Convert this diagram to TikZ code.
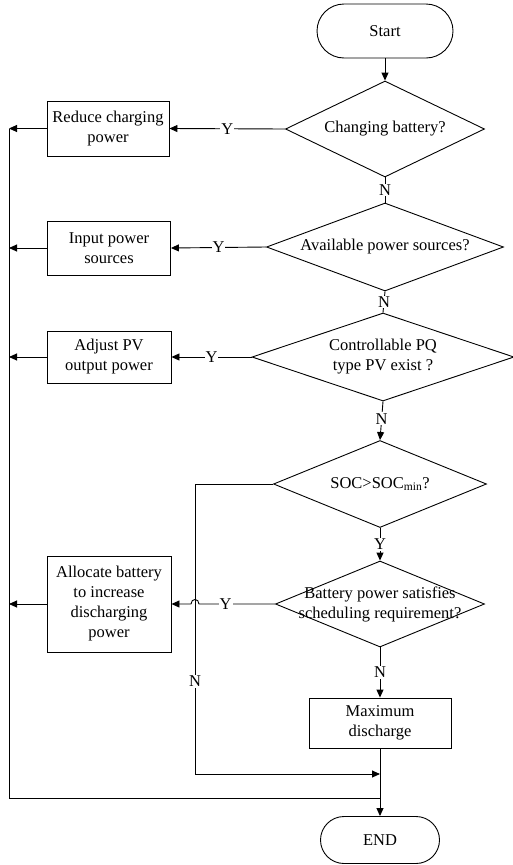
\documentclass[tikz,border=0pt]{standalone}
\usepackage{fontspec}
\setmainfont{Liberation Serif}
\usetikzlibrary{shapes.geometric,arrows.meta}
\begin{document}
\begin{tikzpicture}[x=1pt,y=-1pt,
  every node/.style={font=\fontsize{16.5}{20}\selectfont},
  flow/.style={line width=0.9pt},
  arr/.style={flow,-{Triangle[length=8pt,width=7pt]}},
  proc/.style={draw,line width=0.9pt,rectangle,inner sep=0pt,align=center},
  term/.style={draw,line width=0.9pt,rectangle,rounded corners=#1,inner sep=0pt},
  decision/.style={draw,line width=0.9pt,diamond,inner sep=0pt},
  lbl/.style={fill=white,inner sep=1pt}
]
\useasboundingbox (0,0) rectangle (513,865);

% main column
\node[term=27pt,minimum width=136pt,minimum height=54pt] (start) at (385,31) {Start};
\node[decision,minimum width=199pt,minimum height=96pt] (d1) at (385,129) {};
\node (d1t) at (d1) {Changing battery?};
\node[decision,minimum width=237pt,minimum height=88pt] (d2) at (385,247) {};
\node (d2t) at (d2) {Available power sources?};
\node[decision,minimum width=262pt,minimum height=88pt] (d3) at (383,357) {};
\node[align=center] (d3t) at (d3) {Controllable PQ\\type PV exist ?};
\node[decision,minimum width=213pt,minimum height=87pt] (d4) at (380,484) {};
\node (d4t) at (d4) {SOC>SOC\textsubscript{min}?};
\node[decision,minimum width=209pt,minimum height=86pt] (d5) at (380,604) {};
\node[align=center] (d5t) at (d5) {Battery power satisfies\\scheduling requirement?};
\node[proc,minimum width=142pt,minimum height=50pt] (maxd) at (380,723) {Maximum\\discharge};
\node[term=23.5pt,minimum width=119pt,minimum height=47pt] (end) at (380,840) {END};

% action boxes
\node[proc,minimum width=122pt,minimum height=55pt] (r1) at (108,128.5) {Reduce charging\\power};
\node[proc,minimum width=123pt,minimum height=54pt] (r2) at (109,248) {Input power\\sources};
\node[proc,minimum width=124pt,minimum height=52pt] (r3) at (109,357) {Adjust PV\\output power};
\node[proc,minimum width=124pt,minimum height=96pt] (r4) at (109,604) {Allocate battery\\to increase\\discharging\\power};

% return bus on the left
\coordinate (busTop) at (9,129);
\coordinate (busBot) at (9,798);
\coordinate (loopTop) at (195,484);
\coordinate (loopBot) at (195,774);

% vertical flow
\draw[arr] (start.south) -- (d1.north);
\draw[flow] (d1.south) -- node[lbl] {N} (d2.north);
\draw[flow] (d2.south) -- node[lbl] {N} (d3.north);
\draw[arr] (d3.south) -- node[lbl,pos=0.45] {N} (d4.north);
\draw[arr] (d4.south) -- node[lbl] {Y} (d5.north);
\draw[arr] (d5.south) -- node[lbl] {N} (maxd.north);
\draw[arr] (maxd.south) -- (end.north);

% yes branches
\draw[arr] (d1.west) -- node[lbl] {Y} (r1.east);
\draw[arr] (d2.west) -- node[lbl] {Y} (r2.east);
\draw[arr] (d3.west) -- node[lbl] {Y} (r3.east);
\draw[arr] (d5.west) -- node[lbl,pos=0.65] {Y} (199,604)
  .. controls (199,598) and (191,598) .. (191,604) -- (r4.east);

% SOC too low: skip to end
\draw[arr] (d4.west) -- (loopTop) -- node[lbl,pos=0.68] {N} (loopBot) -- (end.north |- loopBot);

% boxes back to the bus
\draw[arr] (r1.west) -- (r1.west -| busTop);
\draw[arr] (r2.west) -- (r2.west -| busTop);
\draw[arr] (r3.west) -- (r3.west -| busTop);
\draw[arr] (r4.west) -- (r4.west -| busTop);
\draw[flow] (busTop) -- (busBot) -- (end.north |- busBot);
\end{tikzpicture}
\end{document}
